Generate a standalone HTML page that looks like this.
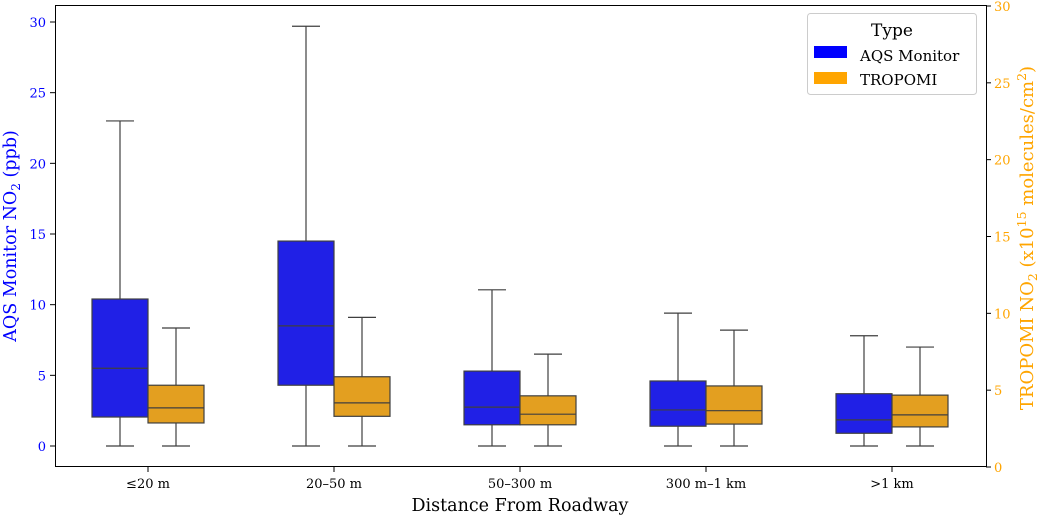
<!DOCTYPE html>
<html><head><meta charset="utf-8"><style>
body{margin:0;background:#fff;}
svg{display:block;font-family:"DejaVu Serif","Liberation Serif",serif;}
</style></head><body>
<svg id="chart" width="1037" height="515" viewBox="0 0 1037 515">
<rect x="55.5" y="5.5" width="931" height="461" fill="none" stroke="#000" stroke-width="1"/>
<g id="left-axis"></g>
<g id="right-axis"></g>
<g id="x-axis"></g>
<g id="boxes"></g>
<text x="16" y="236" transform="rotate(-90 16 236)" text-anchor="middle" font-size="17.5" fill="#0000ff">AQS Monitor NO<tspan font-size="12" dy="4">2</tspan><tspan dy="-4"> (ppb)</tspan></text>
<text x="1033" y="238" transform="rotate(-90 1033 238)" text-anchor="middle" font-size="18" fill="#ffa500">TROPOMI NO<tspan font-size="12.5" dy="4">2</tspan><tspan dy="-4"> (x10</tspan><tspan font-size="12.5" dy="-7">15</tspan><tspan dy="7"> molecules/cm</tspan><tspan font-size="12.5" dy="-7">2</tspan><tspan dy="7">)</tspan></text>
<text x="520" y="511" text-anchor="middle" font-size="17.5" fill="#000">Distance From Roadway</text>
<g>
<rect x="807.5" y="13.5" width="169" height="81" rx="3" fill="#fff" stroke="#ccc"/>
<text x="892" y="36" text-anchor="middle" font-size="17">Type</text>
<rect x="814" y="46" width="33" height="12" fill="#0000ff"/>
<text x="860" y="61" font-size="15">AQS Monitor</text>
<rect x="814" y="72" width="33" height="12" fill="#ffa500"/>
<text x="860" y="85" font-size="15">TROPOMI</text>
</g>
</svg>
<script>
const categories = ["≤20 m","20–50 m","50–300 m","300 m–1 km",">1 km"];
const aqsMin = [0,0,0,0,0];
const aqsQ1 = [2.05,4.3,1.5,1.4,0.9];
const aqsMed = [5.5,8.5,2.75,2.55,1.85];
const aqsQ3 = [10.4,14.5,5.3,4.6,3.7];
const aqsMax = [23.0,29.7,11.05,9.4,7.8];
const tropMin = [0,0,0,0,0];
const tropQ1 = [1.63,2.1,1.5,1.55,1.35];
const tropMed = [2.7,3.05,2.25,2.5,2.2];
const tropQ3 = [4.3,4.9,3.55,4.25,3.6];
const tropMax = [8.35,9.1,6.5,8.2,7.0];
const leftTicks = [0,5,10,15,20,25,30];
const rightTicks = [0,5,10,15,20,25,30];

const NS="http://www.w3.org/2000/svg";
const yL = v => 446 - v*14.133;
const yR = v => 467 - v*15.367;
const xC = i => 148 + i*186;
function mk(tag, attrs, parent){const e=document.createElementNS(NS,tag);for(const k in attrs)e.setAttribute(k,attrs[k]);parent.appendChild(e);return e;}
const la=document.getElementById('left-axis'), ra=document.getElementById('right-axis'), xa=document.getElementById('x-axis'), bx=document.getElementById('boxes');
leftTicks.forEach(t=>{
  const l=mk('line',{x1:50,x2:55,y1:yL(t),y2:yL(t),stroke:'#000'},la);
  
  
  const tx=mk('text',{x:46,y:yL(t)+5,'text-anchor':'end','font-size':13,fill:'#0000ff'},la);
  tx.textContent=t;
  
  
});
rightTicks.forEach(t=>{
  const l=mk('line',{x1:986,x2:991,y1:yR(t),y2:yR(t),stroke:'#000'},ra);
  
  
  const tx=mk('text',{x:994,y:yR(t)+5,'font-size':13,fill:'#ffa500'},ra);
  tx.textContent=t;
  
  
});
categories.forEach((c,i)=>{
  const l=mk('line',{x1:xC(i),x2:xC(i),y1:467,y2:472,stroke:'#000'},xa);
  
  
  const tx=mk('text',{x:xC(i),y:488,'text-anchor':'middle','font-size':13},xa);
  tx.textContent=c;
  
  
});
function box(cx, mn,q1,md,q3,mx, fill, name){
  const g=mk('g',{},bx);
  
  
  const s='#3f3f3f';
  mk('line',{x1:cx,x2:cx,y1:yL(mx),y2:yL(q3),stroke:s,'stroke-width':1.2},g);
  mk('line',{x1:cx,x2:cx,y1:yL(q1),y2:yL(mn),stroke:s,'stroke-width':1.2},g);
  mk('line',{x1:cx-14,x2:cx+14,y1:yL(mx),y2:yL(mx),stroke:s,'stroke-width':1.2},g);
  mk('line',{x1:cx-14,x2:cx+14,y1:yL(mn),y2:yL(mn),stroke:s,'stroke-width':1.2},g);
  mk('rect',{x:cx-28,y:yL(q3),width:56,height:yL(q1)-yL(q3),fill:fill,stroke:s,'stroke-width':1.2},g);
  mk('line',{x1:cx-28,x2:cx+28,y1:yL(md),y2:yL(md),stroke:s,'stroke-width':1.2},g);
}
categories.forEach((c,i)=>{
  box(xC(i)-28,aqsMin[i],aqsQ1[i],aqsMed[i],aqsQ3[i],aqsMax[i],'#2020e6','box-aqs-'+i);
  box(xC(i)+28,tropMin[i],tropQ1[i],tropMed[i],tropQ3[i],tropMax[i],'#e39f20','box-tropomi-'+i);
});
</script>
</body></html>
